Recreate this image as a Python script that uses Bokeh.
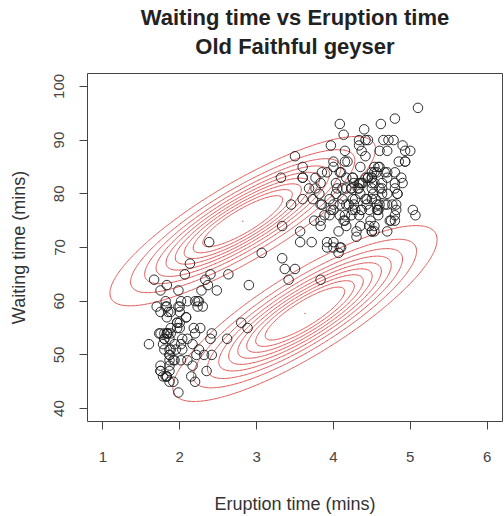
import numpy as np
from bokeh.plotting import figure
from bokeh.models import Range1d, FixedTicker, Title, LinearAxis
from bokeh.embed import file_html
from bokeh.resources import INLINE

# Old Faithful geyser data (eruption time, waiting time)
eruptions = [3.600, 1.800, 3.333, 2.283, 4.533, 2.883, 4.700, 3.600, 1.950, 4.350,
             1.833, 3.917, 4.200, 1.750, 4.700, 2.167, 1.750, 4.800, 1.600, 4.250,
             1.800, 1.750, 3.450, 3.067, 4.533, 3.600, 1.967, 4.083, 3.850, 4.433,
             4.300, 4.467, 3.367, 4.033, 3.833, 2.017, 1.867, 4.833, 1.833, 4.783,
             4.350, 1.883, 4.567, 1.750, 4.533, 3.317, 3.833, 2.100, 4.633, 2.000,
             4.800, 4.716, 1.833, 4.833, 1.733, 4.883, 3.717, 1.667, 4.567, 4.317,
             2.233, 4.500, 1.750, 4.800, 1.817, 4.400, 4.167, 4.700, 2.067, 4.700,
             4.033, 1.967, 4.500, 4.000, 1.983, 5.067, 2.017, 4.567, 3.883, 3.600,
             4.133, 4.333, 4.100, 2.633, 4.067, 4.933, 3.950, 4.517, 2.167, 4.000,
             2.200, 4.333, 1.867, 4.817, 1.833, 4.300, 4.667, 3.750, 1.867, 4.900,
             2.483, 4.367, 2.100, 4.500, 4.050, 1.867, 4.700, 1.783, 4.850, 3.683,
             4.733, 2.300, 4.900, 4.417, 1.700, 4.633, 2.317, 4.600, 1.817, 4.417,
             2.617, 4.067, 4.250, 1.967, 4.600, 3.767, 1.917, 4.500, 2.267, 4.650,
             1.867, 4.167, 2.800, 4.333, 1.833, 4.383, 1.883, 4.933, 2.033, 3.733,
             4.233, 2.233, 4.533, 4.817, 4.333, 1.983, 4.633, 2.017, 5.100, 1.800,
             5.033, 4.000, 2.400, 4.600, 3.567, 4.000, 4.500, 4.083, 1.800, 3.967,
             2.200, 4.150, 2.000, 3.833, 3.500, 4.583, 2.367, 5.000, 1.933, 4.617,
             1.917, 2.083, 4.583, 3.333, 4.167, 4.333, 4.500, 2.417, 4.000, 4.167,
             1.883, 4.583, 4.250, 3.767, 2.033, 4.433, 4.083, 1.833, 4.417, 2.183,
             4.800, 1.833, 4.800, 4.100, 3.966, 4.233, 3.500, 4.366, 2.250, 4.667,
             2.100, 4.350, 4.133, 1.867, 4.600, 1.783, 4.367, 3.850, 1.933, 4.500,
             2.383, 4.700, 1.867, 3.833, 3.417, 4.233, 2.400, 4.800, 2.000, 4.150,
             1.867, 4.267, 1.750, 4.483, 4.000, 4.117, 4.083, 4.267, 3.917, 4.550,
             4.083, 2.417, 4.183, 2.217, 4.450, 1.883, 1.850, 4.283, 3.950, 2.333,
             4.150, 2.350, 4.933, 2.900, 4.583, 3.833, 2.083, 4.367, 2.133, 4.350,
             2.200, 4.450, 3.567, 4.500, 4.150, 3.817, 3.917, 4.450, 2.000, 4.283,
             4.767, 4.533, 1.850, 4.250, 1.983, 2.250, 4.750, 4.117, 2.150, 4.417,
             1.817, 4.467]
waiting = [79, 54, 74, 62, 85, 55, 88, 85, 51, 85, 54, 84, 78, 47, 83, 52, 62, 84, 52, 79,
           51, 47, 78, 69, 74, 83, 55, 76, 78, 79, 73, 77, 66, 80, 74, 52, 48, 80, 59, 90,
           80, 58, 84, 58, 73, 83, 64, 53, 82, 59, 75, 90, 54, 80, 54, 83, 71, 64, 77, 81,
           59, 84, 48, 82, 60, 92, 78, 78, 65, 73, 82, 56, 79, 71, 62, 76, 60, 78, 76, 83,
           75, 82, 70, 65, 73, 88, 76, 80, 48, 86, 60, 90, 50, 78, 63, 72, 84, 75, 51, 82,
           62, 88, 49, 83, 81, 47, 84, 52, 86, 81, 75, 59, 89, 79, 59, 81, 50, 85, 59, 87,
           53, 69, 77, 56, 88, 81, 45, 82, 55, 90, 45, 83, 56, 89, 46, 82, 51, 86, 53, 79,
           81, 60, 82, 77, 76, 59, 80, 49, 96, 53, 77, 77, 65, 81, 71, 70, 81, 93, 53, 89,
           45, 86, 58, 78, 66, 76, 63, 88, 52, 93, 49, 57, 77, 68, 81, 81, 73, 50, 85, 74,
           55, 77, 83, 83, 51, 78, 84, 46, 83, 55, 81, 57, 76, 84, 77, 81, 87, 77, 51, 78,
           60, 82, 91, 53, 78, 46, 77, 84, 49, 83, 71, 80, 49, 75, 64, 76, 53, 94, 55, 76,
           50, 82, 54, 75, 78, 79, 78, 78, 70, 79, 70, 54, 86, 50, 90, 54, 54, 77, 79, 64,
           75, 47, 86, 63, 85, 82, 57, 82, 67, 74, 54, 83, 73, 73, 88, 80, 71, 83, 56, 79,
           78, 84, 58, 83, 43, 60, 75, 81, 46, 90, 46, 74]

# Two-component Gaussian mixture drawn as contours
comp_weight = [0.418, 0.445]
comp_mean_x = [2.82, 3.63]
comp_mean_y = [74.9, 57.7]
comp_sd_x = [0.786, 0.782]
comp_sd_y = [7.17, 7.45]
comp_rho = [0.85, 0.84]
contour_levels = [0.002, 0.004, 0.006, 0.008, 0.010, 0.012, 0.014, 0.016, 0.018]

x_ticks = [1, 2, 3, 4, 5, 6]
y_ticks = [40, 50, 60, 70, 80, 90, 100]
title_lines = ["Waiting time vs Eruption time", "Old Faithful geyser"]

p = figure(width=504, height=516, output_backend="svg", toolbar_location=None,
           x_range=Range1d(0.8, 6.2), y_range=Range1d(37.6, 102.4),
           min_border_left=87, min_border_right=2, min_border_top=73,
           min_border_bottom=94)
p.background_fill_color = "white"
p.border_fill_color = "white"
p.outline_line_color = "#444444"
p.outline_line_width = 1
p.grid.visible = False

# the real axes, taken before the extra axis is added
xa = p.below[0]
ya = p.left[0]

# first title line as the plot title
p.title = Title(text=title_lines[0], align="center", text_font="Liberation Sans",
                text_font_size="22px", text_font_style="bold",
                text_color="#222222", standoff=2)

# second title line: label of a bare axis above the frame (centred)
sub = LinearAxis(ticker=FixedTicker(ticks=[]), axis_label=title_lines[1])
sub.axis_line_color = None
sub.major_tick_line_color = None
sub.minor_tick_line_color = None
sub.major_tick_out = 0
sub.major_tick_in = 0
sub.major_label_text_font_size = "0px"
sub.major_label_standoff = 0
sub.axis_label_standoff = 15
sub.axis_label_text_font = "Liberation Sans"
sub.axis_label_text_font_size = "22px"
sub.axis_label_text_font_style = "bold"
sub.axis_label_text_color = "#222222"
sub.axis_label_text_line_height = 1.0
p.add_layout(sub, "above")

# density grid
gx = np.linspace(0.8, 6.2, 320)
gy = np.linspace(37.6, 102.4, 320)
GX, GY = np.meshgrid(gx, gy)
Z = np.zeros_like(GX)
for w, mx, my, sx, sy, r in zip(comp_weight, comp_mean_x, comp_mean_y,
                                comp_sd_x, comp_sd_y, comp_rho):
    dx = (GX - mx) / sx
    dy = (GY - my) / sy
    q = (dx * dx - 2 * r * dx * dy + dy * dy) / (1 - r * r)
    Z += w / (2 * np.pi * sx * sy * np.sqrt(1 - r * r)) * np.exp(-q / 2)

p.contour(gx, gy, Z, contour_levels, line_color="#E05555", line_width=1)
p.scatter(comp_mean_x, comp_mean_y, marker="dot", size=6, color="#C07070")

p.scatter(eruptions, waiting, marker="circle", size=9.5, fill_color=None,
          line_color="#1a1a1a", line_width=1, line_alpha=0.9)

for ax in (xa, ya):
    ax.axis_line_color = "#444444"
    ax.major_tick_line_color = "#444444"
    ax.minor_tick_line_color = None
    ax.major_tick_in = 0
    ax.major_tick_out = 8
    ax.major_label_text_font = "Liberation Sans"
    ax.major_label_text_font_size = "15px"
    ax.major_label_text_color = "#444444"
    ax.major_label_text_line_height = 1.0
    ax.axis_label_text_font = "Liberation Sans"
    ax.axis_label_text_font_size = "18px"
    ax.axis_label_text_font_style = "normal"
    ax.axis_label_text_color = "#333333"
    ax.axis_label_text_line_height = 1.0

xa.ticker = FixedTicker(ticks=x_ticks)
xa.bounds = (1, 6)
xa.axis_label = "Eruption time (mins)"
xa.major_label_standoff = 22
xa.axis_label_standoff = 29

ya.ticker = FixedTicker(ticks=y_ticks)
ya.bounds = (40, 100)
ya.axis_label = "Waiting time (mins)"
ya.major_label_orientation = "vertical"
ya.major_label_standoff = 15
ya.axis_label_standoff = 23

open("out.html", "w").write(file_html(p, INLINE))
